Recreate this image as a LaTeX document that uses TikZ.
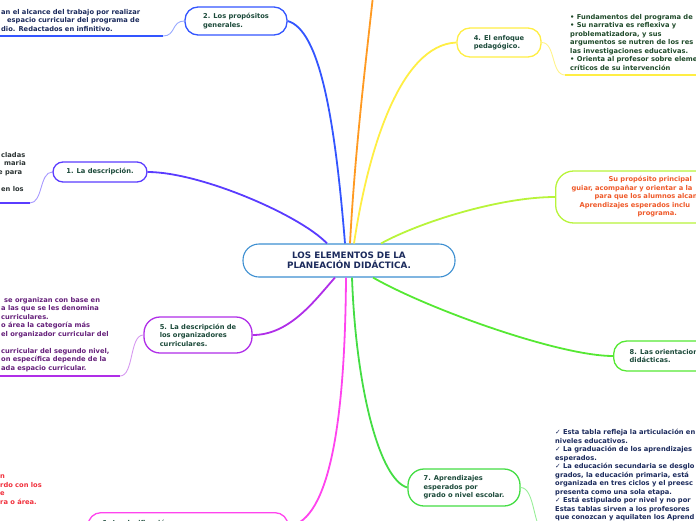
\documentclass[tikz,border=0pt]{standalone}
\usepackage{fontspec}
\setmainfont{DejaVu Sans}
\definecolor{cblue}{HTML}{3D8FD1}
\definecolor{ctext}{HTML}{1B2A5C}
\definecolor{nodetext}{HTML}{1C4A3A}
\definecolor{cb2}{HTML}{3355FF}
\definecolor{cb2l}{HTML}{99AAFF}
\definecolor{cv1}{HTML}{5A3CFF}
\definecolor{cv1l}{HTML}{A799FF}
\definecolor{cp5}{HTML}{B02EE8}
\definecolor{cp5l}{HTML}{D699F0}
\definecolor{cm6}{HTML}{FF44EE}
\definecolor{cg7}{HTML}{44DD44}
\definecolor{cg7l}{HTML}{99EE99}
\definecolor{cg8}{HTML}{55E833}
\definecolor{clime}{HTML}{B8F43A}
\definecolor{cyel}{HTML}{FFEE44}
\definecolor{cyell}{HTML}{FFF38A}
\definecolor{corange}{HTML}{FF9A22}
\definecolor{tnavy}{HTML}{1B2A5C}
\definecolor{tdark}{HTML}{2B3333}
\definecolor{tpurple}{HTML}{65207A}
\definecolor{tgreen}{HTML}{1F4A2A}
\definecolor{torange}{HTML}{EF5A2A}
\definecolor{tred}{HTML}{F0303C}
\begin{document}
\begin{tikzpicture}[x=1pt,y=-1pt,
  every node/.style={font=\fontsize{6.7}{8.5}\selectfont\bfseries},
  mm/.style={draw, fill=white, rounded corners=13pt, line width=1.3pt, align=left, text=nodetext, inner sep=0pt},
  note/.style={anchor=north west, inner sep=0pt, align=left},
  branch/.style={line width=1.8pt},
  thinc/.style={line width=0.9pt},
  uline/.style={line width=2pt}]
\path[use as bounding box] (0,0) rectangle (696,520);
\clip (0,0) rectangle (696,520);

% central node
\node[mm, draw=cblue, line width=1.1pt, minimum width=212pt, minimum height=33pt, rounded corners=16pt, align=center, text=ctext, font=\fontsize{8.8}{9.5}\selectfont\bfseries] (c) at (349,260.5) {LOS ELEMENTOS DE LA\\PLANEACIÓN DIDÁCTICA.};

% topic nodes
\node[mm, draw=cb2, minimum width=102pt, minimum height=28pt] (n2) at (236,21) {2. Los propósitos\\generales.};
\node[mm, draw=cv1, minimum width=94pt, minimum height=20pt, rounded corners=10pt] (n1) at (100,172) {1. La descripción.};
\node[mm, draw=cp5, minimum width=108pt, minimum height=36pt, rounded corners=16pt] (n5) at (198,335) {5. La descripción de\\los organizadores\\curriculares.};
\node[mm, draw=cyel, minimum width=84pt, minimum height=29pt] (n4) at (499,42.5) {4. El enfoque\\pedagógico.};
\node[mm, draw=clime, anchor=west, minimum height=52pt, text width=150pt, inner xsep=16pt, rounded corners=18pt, text=torange] (np) at (555,197) {\hspace*{37pt}Su propósito principal\\ guiar, acompañar y orientar a la\\ \hspace*{23pt}para que los alumnos alcan\\ \hspace*{8pt}Aprendizajes esperados inclu\\ \hspace*{66pt}programa.};
\node[mm, draw=cg8, anchor=west, minimum height=30pt, text width=95pt, inner xsep=16pt] (n8) at (613,356) {8. Las orientaciones\\didácticas.};
\node[mm, draw=cg7, minimum width=112pt, minimum height=37pt, rounded corners=16pt] (n7) at (464,487.5) {7. Aprendizajes\\esperados por\\grado o nivel escolar.};
\node[mm, draw=cm6, anchor=north, text width=172pt, inner xsep=14pt, inner ysep=7pt] (n6) at (188,512) {6. La clasificación\\ \mbox{}};

% notes
\node[note, text=tnavy] (ta) at (1,9) {an el alcance del trabajo por realizar\\ \hspace*{6pt}espacio curricular del programa de\\ dio. Redactados en infinitivo.};
\node[note, text=tdark] (tb) at (1,152) {cladas\\ \hspace*{3pt}maria\\ \hspace*{-3pt}e para\\[8.5pt] en los};
\node[note, text=tpurple] (tc) at (1,297) {\hspace*{3pt}se organizan con base en\\ a las que se les denomina\\ curriculares.\\ o área la categoría más\\ el organizador curricular del\\[8.5pt] curricular del segundo nivel,\\ on específica depende de la\\ ada espacio curricular.};
\node[note, text=tgreen] (td) at (570,14) {• Fundamentos del programa de\\ • Su narrativa es reflexiva y\\ problematizadora, y sus\\ argumentos se nutren de los res\\ las investigaciones educativas.\\ • Orienta al profesor sobre eleme\\ críticos de su intervención};
\node[note, text=tnavy] (tf) at (555,429) {✓ Esta tabla refleja la articulación en\\ niveles educativos.\\ ✓ La graduación de los aprendizajes\\ esperados.\\ ✓ La educación secundaria se desglo\\ grados, la educación primaria, está\\ organizada en tres ciclos y el preesc\\ presenta como una sola etapa.\\ ✓ Está estipulado por nivel y no por\\ Estas tablas sirven a los profesores\\ que conozcan y aquilaten los Aprend};
\node[note, text=tred] (tg) at (0,475) {n\\ rdo con los\\ e\\ ra o área.};

% underline coordinates
\coordinate (ua) at (163,36);
\coordinate (ub) at (30,203);
\coordinate (uc) at (120,376);
\coordinate (ud) at (565,75);
\coordinate (uf) at (545,532);
\coordinate (otop) at (373,-4);

% note connectors and underlines
\draw[thinc, cb2l] (n2.west) .. controls +(-13,0) and +(13,0) .. (ua);
\draw[uline, cb2] (ua) -- ++(-170,0);
\draw[thinc, cv1l] (n1.west) .. controls +(-13,0) and +(13,0) .. (ub);
\draw[uline, cv1] (ub) -- ++(-40,0);
\draw[thinc, cp5l] (n5.west) .. controls +(-14,0) and +(14,0) .. (uc);
\draw[uline, cp5] (uc) -- ++(-130,0);
\draw[thinc, cyell] (n4.east) .. controls +(14,0) and +(-14,0) .. (ud);
\draw[uline, cyel] (ud) -- ++(140,0);
\draw[thinc, cg7l] (n7.east) .. controls +(15,0) and +(-12,0) .. (uf);

% branches
\draw[branch, cb2] ([xshift=-4pt]c.north) .. controls (335,120) and (320,30) .. (n2.east);
\draw[branch, corange] ([xshift=1pt]c.north) .. controls (355,150) and (366,60) .. (otop);
\draw[branch, cyel] ([xshift=5pt]c.north) .. controls (368,150) and (400,45) .. (n4.west);
\draw[branch, clime] ([xshift=32pt]c.north) .. controls (420,222) and (500,197) .. (np.west);
\draw[branch, cv1] ([xshift=-22pt]c.north) .. controls (300,215) and (200,172) .. (n1.east);
\draw[branch, cp5] ([xshift=-14pt]c.south) .. controls (315,300) and (290,335) .. (n5.east);
\draw[branch, cm6] ([xshift=-3pt]c.south) .. controls (345,420) and (330,520) .. (n6.east);
\draw[branch, cg7] ([xshift=3pt]c.south) .. controls (356,390) and (380,480) .. (n7.west);
\draw[branch, cg8] ([xshift=24pt]c.south) .. controls (430,310) and (560,356) .. (n8.west);
\end{tikzpicture}
\end{document}
